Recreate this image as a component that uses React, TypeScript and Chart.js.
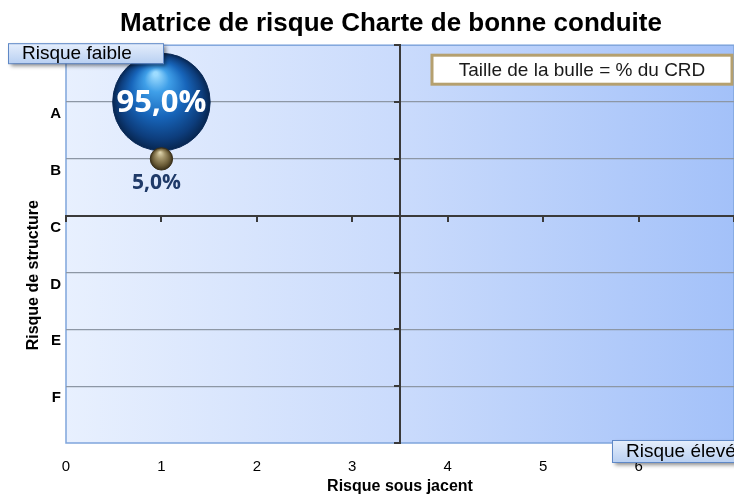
import React, { useEffect, useRef } from 'react';
import { Chart, registerables } from 'chart.js';

Chart.register(...registerables);

// ---- data ----
const chartTitle = 'Matrice de risque Charte de bonne conduite';
const xAxisTitle = 'Risque sous jacent';
const yAxisTitle = 'Risque de structure';
const xTickValues = [0, 1, 2, 3, 4, 5, 6];
const yCategoryLabels = ['F', 'E', 'D', 'C', 'B', 'A']; // y = 1..6
const bubbleX = [1, 1];
const bubbleY = [6, 5];
const bubblePct = [95.0, 5.0];
const xRange = [0, 7];
const yRange = [0, 7];
const xCross = 3.5;
const yCross = 4;
const lowRiskLabel = 'Risque faible';
const highRiskLabel = 'Risque élevé';
const legendNote = 'Taille de la bulle = % du CRD';

const FONT = '"Liberation Sans", Arial, sans-serif';
const LABEL_FONT = '"Open Sans", "Liberation Sans", sans-serif';

const sphereStops: [number, string][][] = [
  [
    [0, '#9ddcff'],
    [0.22, '#3f9fe8'],
    [0.55, '#1765ba'],
    [0.85, '#0d3d7c'],
    [1, '#072650'],
  ],
  [
    [0, '#ddd3ac'],
    [0.35, '#a3946a'],
    [0.75, '#6a5b36'],
    [1, '#3a301a'],
  ],
];
const sphereFallback = ['#1765ba', '#8a7a50'];

const backgroundPlugin = {
  id: 'plotBackground',
  beforeDraw(chart: any) {
    const { ctx, chartArea } = chart;
    if (!chartArea) return;
    const { left, top, right, bottom } = chartArea;
    ctx.save();
    const g = ctx.createLinearGradient(left, 0, right, 0);
    g.addColorStop(0, '#e8f0fe');
    g.addColorStop(0.5, '#cadbfc');
    g.addColorStop(1, '#a3c1f9');
    ctx.fillStyle = g;
    ctx.fillRect(left, top, right - left, bottom - top);
    ctx.strokeStyle = '#7fa5dc';
    ctx.lineWidth = 1.5;
    ctx.strokeRect(left, top, right - left, bottom - top);
    ctx.restore();
  },
};

const bubbleLabelPlugin = {
  id: 'bubbleLabels',
  afterDatasetsDraw(chart: any) {
    const meta = chart.getDatasetMeta(0);
    const c = chart.ctx;
    meta.data.forEach((el: any, i: number) => {
      const text = bubblePct[i].toFixed(1).replace('.', ',') + '%';
      const r = el.options.radius;
      c.save();
      c.textAlign = 'center';
      c.textBaseline = 'middle';
      if (r > 25) {
        c.font = `bold 31px ${LABEL_FONT}`;
        c.fillStyle = '#ffffff';
        c.fillText(text, el.x, el.y + 1);
      } else {
        c.font = `bold 21px ${LABEL_FONT}`;
        c.fillStyle = '#1f3a68';
        c.fillText(text, el.x - 5, el.y + r + 13);
      }
      c.restore();
    });
  },
};

function drawTagBox(c: CanvasRenderingContext2D, x: number, y: number, w: number, h: number, text: string) {
  c.save();
  c.shadowColor = 'rgba(0,0,0,0.45)';
  c.shadowBlur = 4;
  c.shadowOffsetX = 3;
  c.shadowOffsetY = 3;
  const g = c.createLinearGradient(0, y, 0, y + h);
  g.addColorStop(0, '#e6effc');
  g.addColorStop(1, '#b9d0f2');
  c.fillStyle = g;
  c.fillRect(x, y, w, h);
  c.restore();
  c.save();
  c.strokeStyle = '#5f88c6';
  c.lineWidth = 1;
  c.strokeRect(x + 0.5, y + 0.5, w, h);
  c.fillStyle = '#000';
  c.font = `19px ${FONT}`;
  c.textAlign = 'left';
  c.textBaseline = 'middle';
  c.fillText(text, x + 14, y + h / 2 + 1);
  c.restore();
}

const annotationPlugin = {
  id: 'annotations',
  afterDraw(chart: any) {
    const { ctx, chartArea } = chart;
    if (!chartArea) return;
    const { left, top, right, bottom } = chartArea;
    drawTagBox(ctx, left - 58, top - 2, 155, 20, lowRiskLabel);
    drawTagBox(ctx, right - 122, bottom - 3, 155, 22, highRiskLabel);
    // legend note box
    const bx = right - 302;
    const by = top + 10;
    const bw = 300;
    const bh = 29;
    ctx.save();
    ctx.fillStyle = '#ffffff';
    ctx.fillRect(bx, by, bw, bh);
    ctx.strokeStyle = '#b5a06f';
    ctx.lineWidth = 3;
    ctx.strokeRect(bx, by, bw, bh);
    ctx.fillStyle = '#1a1a1a';
    ctx.font = `19px ${FONT}`;
    ctx.textAlign = 'center';
    ctx.textBaseline = 'middle';
    ctx.fillText(legendNote, bx + bw / 2, by + bh / 2 + 1);
    ctx.restore();
  },
};

export default function App() {
  const canvasRef = useRef<HTMLCanvasElement | null>(null);

  useEffect(() => {
    if (!canvasRef.current) return;
    Chart.defaults.font.family = FONT;
    const data = bubbleX.map((x, i) => ({ x, y: bubbleY[i], r: 5 * Math.sqrt(bubblePct[i]) }));

    const chart = new Chart(canvasRef.current, {
      type: 'bubble',
      data: {
        datasets: [
          {
            label: 'CRD',
            data,
            xAxisID: 'x',
            yAxisID: 'y',
            borderWidth: 1,
            borderColor: (ctx: any) => (ctx.dataIndex === 0 ? '#0a2a58' : '#3a301a'),
            backgroundColor: (ctx: any) => {
              const chart = ctx.chart;
              const raw = ctx.raw;
              const i = ctx.dataIndex ?? 0;
              if (!raw || !chart.scales || !chart.scales.x || !chart.chartArea) return sphereFallback[i];
              const cx = chart.scales.x.getPixelForValue(raw.x);
              const cy = chart.scales.y.getPixelForValue(raw.y);
              const r = raw.r;
              if (!isFinite(cx) || !isFinite(cy)) return sphereFallback[i];
              const g = chart.ctx.createRadialGradient(cx - r * 0.12, cy - r * 0.58, r * 0.04, cx, cy, r);
              sphereStops[i].forEach(([o, col]) => g.addColorStop(o, col));
              return g;
            },
          },
        ],
      },
      options: {
        responsive: false,
        animation: false,
        layout: { padding: 0 },
        plugins: {
          legend: { display: false },
          tooltip: { enabled: false },
          title: {
            display: true,
            text: chartTitle,
            color: '#000',
            font: { size: 26, weight: 'bold', family: FONT },
            padding: { top: 8, bottom: 6 },
          },
        },
        scales: {
          x: {
            type: 'linear',
            position: 'bottom',
            min: xRange[0],
            max: xRange[1],
            afterFit: (scale: any) => {
              scale.height = 52;
            },
            ticks: {
              stepSize: 1,
              padding: 15,
              color: '#000',
              font: { size: 15, family: FONT },
              callback: (v: any) => (xTickValues.includes(Number(v)) ? String(v) : ''),
            },
            grid: { display: true, color: 'transparent', drawTicks: false, drawOnChartArea: false },
            border: { display: false },
            title: {
              display: true,
              text: xAxisTitle,
              color: '#000',
              font: { size: 16, weight: 'bold', lineHeight: 1, family: FONT },
              padding: 0,
            },
          },
          y: {
            type: 'linear',
            position: 'left',
            min: yRange[0],
            max: yRange[1],
            afterFit: (scale: any) => {
              scale.width = 66;
            },
            ticks: {
              stepSize: 1,
              padding: 5,
              labelOffset: 12,
              color: '#000',
              font: { size: 15, weight: 'bold', family: FONT },
              callback: (v: any) => {
                const n = Number(v);
                return Number.isInteger(n) && n >= 1 && n <= yCategoryLabels.length ? yCategoryLabels[n - 1] : '';
              },
            },
            grid: {
              drawTicks: false,
              lineWidth: 1.2,
              color: (ctx: any) => {
                const v = ctx.tick ? ctx.tick.value : 0;
                return v > yRange[0] && v < yRange[1] ? '#8d97a5' : 'transparent';
              },
            },
            border: { display: false },
            title: {
              display: true,
              text: yAxisTitle + ' '.repeat(14),
              color: '#000',
              font: { size: 16, weight: 'bold', lineHeight: 1, family: FONT },
              padding: { top: 26, bottom: 0 },
            },
          },
          yRight: {
            type: 'linear',
            axis: 'y',
            position: 'right',
            min: yRange[0],
            max: yRange[1],
            afterFit: (scale: any) => {
              scale.width = 48;
            },
            ticks: { display: false },
            grid: { display: false, drawTicks: false },
            border: { display: false },
          },
          x2: {
            type: 'linear',
            axis: 'x',
            position: { y: yCross },
            min: xRange[0],
            max: xRange[1],
            ticks: { display: false, stepSize: 1 },
            grid: { drawOnChartArea: false, drawTicks: true, tickLength: 5, color: '#3a3a3a', lineWidth: 2 },
            border: { display: true, color: '#3a3a3a', width: 2 },
          },
          y2: {
            type: 'linear',
            axis: 'y',
            position: { x: xCross },
            min: yRange[0],
            max: yRange[1],
            ticks: { display: false, stepSize: 1 },
            grid: { drawOnChartArea: false, drawTicks: true, tickLength: 5, color: '#3a3a3a', lineWidth: 2 },
            border: { display: true, color: '#3a3a3a', width: 2 },
          },
        },
      } as any,
      plugins: [backgroundPlugin, bubbleLabelPlugin, annotationPlugin],
    });

    // The bubble controller reserves its largest radius as outer padding; the
    // reference lets bubbles overlap the plot edge, so drop that overflow.
    const ctrl: any = chart.getDatasetMeta(0).controller;
    ctrl.getMaxOverflow = () => 0;
    chart.update();

    return () => {
      chart.destroy();
    };
  }, []);

  return (
    <div
      style={{
        position: 'fixed',
        left: 0,
        top: 0,
        width: 734,
        height: 495,
        overflow: 'hidden',
        background: '#fff',
      }}
    >
      <canvas ref={canvasRef} width={782} height={495} style={{ display: 'block', width: 782, height: 495 }} />
    </div>
  );
}
